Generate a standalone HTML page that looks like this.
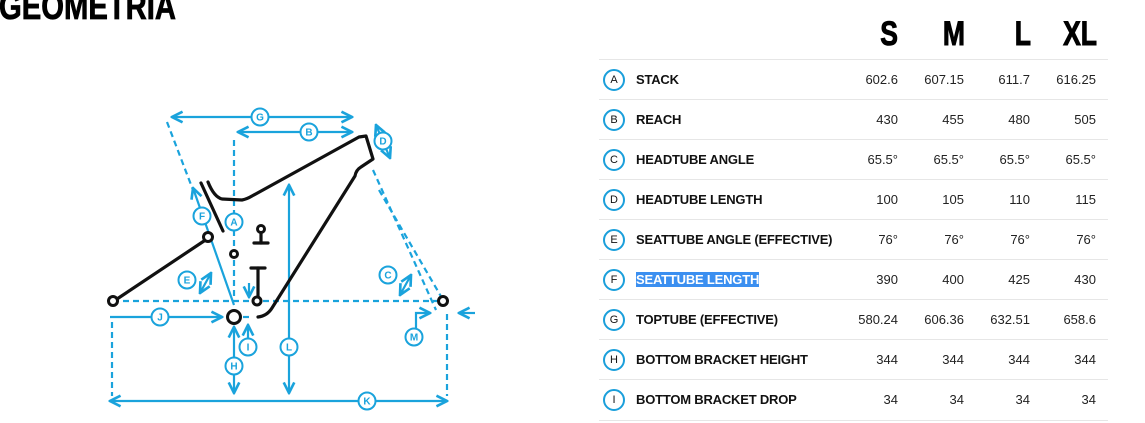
<!DOCTYPE html>
<html><head><meta charset="utf-8"><style>
body{margin:0;width:1145px;height:423px;overflow:hidden;background:#fff;position:relative;font-family:"Liberation Sans",sans-serif}
.title{position:absolute;left:-1px;top:-14px;font-weight:bold;font-size:37px;color:#000;transform:scaleX(0.79);transform-origin:left;white-space:nowrap;-webkit-text-stroke:0.8px #000}
.hd{position:absolute;top:15px;font-weight:bold;font-size:34px;color:#000;text-align:right;width:80px;transform:scaleX(0.78);transform-origin:right;-webkit-text-stroke:1px #000}
.row{position:absolute;left:599px;width:509px;height:40px;border-top:1px solid #e6e6e6}
.c{position:absolute;left:4px;top:9px;width:18px;height:18px;border:2px solid #1a9fdb;border-radius:50%;font-size:11px;line-height:18px;text-align:center;color:#111}
.lb{position:absolute;left:37px;top:12px;font-size:13px;font-weight:bold;color:#111;letter-spacing:-0.2px}
.v{position:absolute;top:12px;font-size:13px;color:#222;text-align:right;width:70px}
.sel{background:#3b8ff0;color:#fff}
</style></head><body>
<div class="title">GEOMETRIA</div>
<div class="hd" style="left:818px">S</div>
<div class="hd" style="left:885px">M</div>
<div class="hd" style="left:951px">L</div>
<div class="hd" style="left:1017px">XL</div>

<div class="row" style="top:59px"><div class="c">A</div><div class="lb">STACK</div><div class="v" style="left:229px">602.6</div><div class="v" style="left:295px">607.15</div><div class="v" style="left:361px">611.7</div><div class="v" style="left:427px">616.25</div></div>
<div class="row" style="top:99px"><div class="c">B</div><div class="lb">REACH</div><div class="v" style="left:229px">430</div><div class="v" style="left:295px">455</div><div class="v" style="left:361px">480</div><div class="v" style="left:427px">505</div></div>
<div class="row" style="top:139px"><div class="c">C</div><div class="lb">HEADTUBE ANGLE</div><div class="v" style="left:229px">65.5°</div><div class="v" style="left:295px">65.5°</div><div class="v" style="left:361px">65.5°</div><div class="v" style="left:427px">65.5°</div></div>
<div class="row" style="top:179px"><div class="c">D</div><div class="lb">HEADTUBE LENGTH</div><div class="v" style="left:229px">100</div><div class="v" style="left:295px">105</div><div class="v" style="left:361px">110</div><div class="v" style="left:427px">115</div></div>
<div class="row" style="top:219px"><div class="c">E</div><div class="lb">SEATTUBE ANGLE (EFFECTIVE)</div><div class="v" style="left:229px">76°</div><div class="v" style="left:295px">76°</div><div class="v" style="left:361px">76°</div><div class="v" style="left:427px">76°</div></div>
<div class="row" style="top:259px"><div class="c">F</div><div class="lb"><span class="sel">SEATTUBE LENGTH</span></div><div class="v" style="left:229px">390</div><div class="v" style="left:295px">400</div><div class="v" style="left:361px">425</div><div class="v" style="left:427px">430</div></div>
<div class="row" style="top:299px"><div class="c">G</div><div class="lb">TOPTUBE (EFFECTIVE)</div><div class="v" style="left:229px">580.24</div><div class="v" style="left:295px">606.36</div><div class="v" style="left:361px">632.51</div><div class="v" style="left:427px">658.6</div></div>
<div class="row" style="top:339px"><div class="c">H</div><div class="lb">BOTTOM BRACKET HEIGHT</div><div class="v" style="left:229px">344</div><div class="v" style="left:295px">344</div><div class="v" style="left:361px">344</div><div class="v" style="left:427px">344</div></div>
<div class="row" style="top:379px;border-bottom:1px solid #e6e6e6"><div class="c">I</div><div class="lb">BOTTOM BRACKET DROP</div><div class="v" style="left:229px">34</div><div class="v" style="left:295px">34</div><div class="v" style="left:361px">34</div><div class="v" style="left:427px">34</div></div>

<svg style="position:absolute;left:0;top:0" width="600" height="423" viewBox="0 0 600 423">
<defs>
<marker id="ar" viewBox="0 0 10 10" refX="9" refY="5" markerWidth="6" markerHeight="6" orient="auto-start-reverse"><path d="M1,1 L9,5 L1,9" fill="none" stroke="#1aa3dc" stroke-width="2"/></marker>
</defs>
<g stroke="#1aa3dc" stroke-width="2.2" fill="none">
<g stroke-dasharray="6,4">
<line x1="113" y1="301" x2="437" y2="301"/>
<line x1="234" y1="140" x2="234" y2="300"/>
<line x1="167" y1="122" x2="193" y2="190"/>
<line x1="373" y1="170" x2="436" y2="310"/>
<line x1="379" y1="190" x2="446" y2="305"/>
<line x1="112" y1="322" x2="112" y2="396"/>
<line x1="447" y1="314" x2="447" y2="396"/>
<line x1="243" y1="317" x2="252" y2="317"/>
</g>
<line x1="172" y1="117" x2="352" y2="117" marker-start="url(#ar)" marker-end="url(#ar)"/>
<line x1="238" y1="132" x2="352" y2="132" marker-start="url(#ar)" marker-end="url(#ar)"/>
<line x1="234" y1="305" x2="193" y2="188" marker-end="url(#ar)"/>
<line x1="289" y1="185" x2="289" y2="393" marker-start="url(#ar)" marker-end="url(#ar)"/>
<line x1="234" y1="327" x2="234" y2="393" marker-start="url(#ar)" marker-end="url(#ar)"/>
<line x1="110" y1="317" x2="222" y2="317" marker-end="url(#ar)"/>
<line x1="110" y1="401" x2="447" y2="401" marker-start="url(#ar)" marker-end="url(#ar)"/>
<line x1="248" y1="340" x2="248" y2="325" marker-end="url(#ar)"/>
<line x1="249" y1="283" x2="249" y2="297" marker-end="url(#ar)"/>
<line x1="376" y1="125" x2="390" y2="158" marker-start="url(#ar)" marker-end="url(#ar)"/>
<line x1="200" y1="293" x2="211" y2="273" marker-start="url(#ar)" marker-end="url(#ar)"/>
<line x1="400" y1="295" x2="411" y2="275" marker-start="url(#ar)" marker-end="url(#ar)"/>
<polyline points="416,328 416,313 430,313" marker-end="url(#ar)"/>
<line x1="475" y1="313" x2="459" y2="313" marker-end="url(#ar)"/>
</g>
<g fill="#fff" stroke="#1aa3dc" stroke-width="2">
<circle cx="260" cy="117" r="8.5"/><circle cx="309" cy="132" r="8.5"/><circle cx="234" cy="222" r="8.5"/><circle cx="202" cy="216" r="8.5"/>
<circle cx="383" cy="141" r="8.5"/><circle cx="187" cy="280" r="8.5"/><circle cx="388" cy="275" r="8.5"/><circle cx="160" cy="317" r="8.5"/>
<circle cx="289" cy="347" r="8.5"/><circle cx="248" cy="347" r="8.5"/><circle cx="234" cy="366" r="8.5"/><circle cx="367" cy="401" r="8.5"/><circle cx="414" cy="337" r="8.5"/>
</g>
<g fill="#1aa3dc" font-family="Liberation Sans,sans-serif" font-size="10" font-weight="bold" text-anchor="middle">
<text x="260" y="120.5">G</text><text x="309" y="135.5">B</text><text x="234" y="225.5">A</text><text x="202" y="219.5">F</text>
<text x="383" y="144.5">D</text><text x="187" y="283.5">E</text><text x="388" y="278.5">C</text><text x="160" y="320.5">J</text>
<text x="289" y="350.5">L</text><text x="248" y="350.5">I</text><text x="234" y="369.5">H</text><text x="367" y="404.5">K</text><text x="414" y="340.5">M</text>
</g>
<g stroke="#111" stroke-width="3.2" fill="none" stroke-linejoin="round" stroke-linecap="round">
<path d="M208,182 Q214,197 222,199 L242,200 Q247,199 252,196 L359,137 L366,136 L373,159 L361,167 Q356,170 355,176 L272,308 Q267,316 258,317"/>
<line x1="201" y1="183" x2="223" y2="231"/>
<line x1="117" y1="299" x2="204" y2="241"/>
<line x1="258" y1="268" x2="258" y2="297"/>
<line x1="251" y1="268" x2="265" y2="268"/>
<line x1="261" y1="233" x2="261" y2="243"/>
<line x1="254" y1="243" x2="268" y2="243"/>
</g>
<g fill="#fff" stroke="#111" stroke-width="3">
<circle cx="113" cy="301" r="4.5"/><circle cx="208" cy="237" r="4.5"/><circle cx="234" cy="254" r="3.5"/>
<circle cx="234" cy="317" r="6.5"/><circle cx="257" cy="301" r="4"/><circle cx="261" cy="229" r="3.5"/><circle cx="443" cy="301" r="4.5"/>
</g>
</svg>
</body></html>
